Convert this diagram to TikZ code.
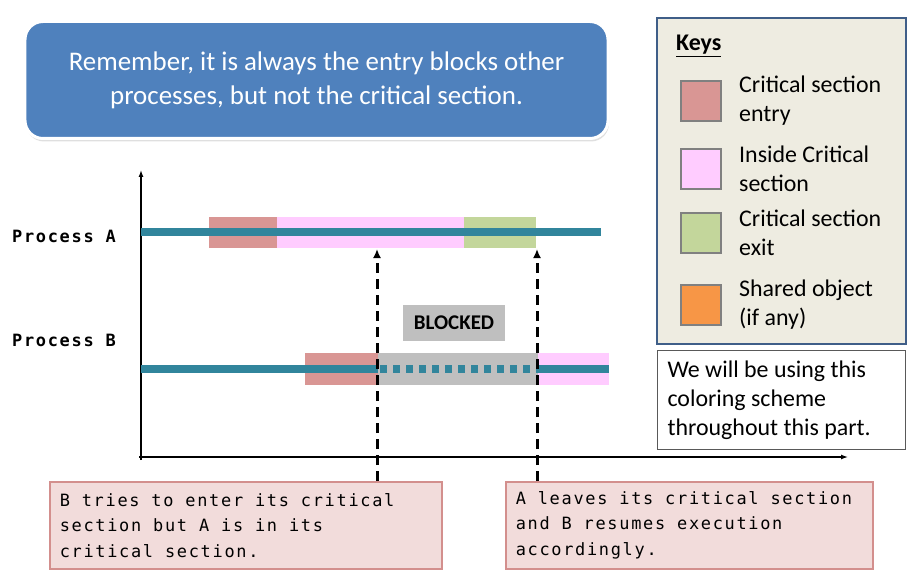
\documentclass[tikz,border=0pt]{standalone}
\usepackage{fontspec}
\setmainfont{Carlito}
\newfontfamily\ttcode[LetterSpace=10]{DejaVu Sans Mono}
\usetikzlibrary{arrows.meta,shadows}
\definecolor{noteblue}{HTML}{4F81BD}
\definecolor{procline}{HTML}{31859C}
\definecolor{csentry}{HTML}{D99694}
\definecolor{csinside}{HTML}{FFCCFF}
\definecolor{csexit}{HTML}{C3D69B}
\definecolor{shared}{HTML}{F79646}
\definecolor{blockgrey}{HTML}{BFBFBF}
\definecolor{keyfill}{HTML}{EEECE1}
\definecolor{keyedge}{HTML}{3F5E88}
\definecolor{calloutfill}{HTML}{F2DCDB}
\definecolor{calloutedge}{HTML}{D38F8D}
\begin{document}
\begin{tikzpicture}[x=1bp,y=-1bp,
note/.style={fill=noteblue, draw=white, line width=3bp, rounded corners=18bp, minimum width=583bp, minimum height=117bp, text=white, align=flush center, font=\fontsize{27}{34}\selectfont, drop shadow={shadow xshift=1bp, shadow yshift=-3bp, opacity=.25}},
keybox/.style={fill=keyfill, draw=keyedge, line width=2bp, anchor=north west, minimum width=249bp, minimum height=326bp},
swatch/.style={draw=black!50, line width=2bp, minimum size=40bp, inner sep=0},
keytext/.style={anchor=west, align=flush left, inner sep=0, font=\fontsize{24}{29}\selectfont},
proc/.style={anchor=west, inner sep=0, font=\ttcode\bfseries\fontsize{17}{20}\selectfont},
tl/.style={draw=procline, line width=8bp},
blocked/.style={fill=blockgrey, minimum width=102bp, minimum height=36bp, font=\bfseries\fontsize{21}{24}\selectfont},
callout/.style={fill=calloutfill, draw=calloutedge, line width=1.5bp, anchor=north west, minimum height=87bp, inner xsep=10bp, align=flush left, font=\ttcode\fontsize{17}{25.5}\selectfont},
axis/.style={line width=1.3bp, -{Latex[length=7bp,width=5bp]}},
wait/.style={line width=3bp, dash pattern=on 10bp off 6bp, -{Latex[length=9bp,width=8bp]}}]
\useasboundingbox (0,0) rectangle (911,579);
%\draw[help lines,step=50] (0,0) grid (911,579);
\node at (316.5,80) [note] (remember) {Remember, it is always the entry blocks other\\processes, but not the critical section.};

\node at (656,17) [keybox] (keys) {};
\node at (676,46) [anchor=west, inner sep=0, font=\bfseries\fontsize{24}{28}\selectfont] (keystitle) {\underline{Keys}};
\foreach \c/\yy/\txt [count=\i] in {csentry/101/{Critical section\\entry}, csinside/169/{Inside Critical\\section}, csexit/233/{Critical section\\exit}, shared/305/{Shared object\\(if any)}} {
  \node at (701,\yy) [swatch, fill=\c] (sw\i) {};
  \node at (739,\yy) [keytext] (kt\i) {\txt};
}
\node at (657,350) [anchor=north west, draw=black!65, line width=1bp, minimum width=248bp, minimum height=99bp, text width=228bp, inner xsep=10bp, align=flush left, font=\fontsize{24}{29}\selectfont] (scheme) {We will be using this\\coloring scheme\\throughout this part.};

\draw[axis] (141,460) -- (141,170);
\draw[axis] (139,457) -- (848,457);
\node at (12,236) [proc] (procA) {Process A};
\node at (12,340) [proc] (procB) {Process B};

% process A
\fill[csentry] (209,217) rectangle (277,248);
\fill[csinside] (277,217) rectangle (464,248);
\fill[csexit] (464,217) rectangle (536,248);
\draw[tl] (141,232) -- (601,232);
% process B
\fill[csentry] (305,353) rectangle (378,385);
\fill[blockgrey] (378,353) rectangle (538,385);
\fill[csinside] (538,353) rectangle (609,385);
\draw[tl] (141,369) -- (378,369);
\draw[tl, dash pattern=on 6.5bp off 6.5bp] (380,369) -- (538,369);
\draw[tl] (538,369) -- (609,369);
\node at (454,323) [blocked] (blk) {BLOCKED};

\node at (49,481) [callout, text width=372bp] (tryenter) {B tries to enter its critical\\section but A is in its\\critical section.};
\node at (505,481) [callout, text width=347bp] (leave) {A leaves its critical section\\and B resumes execution\\accordingly.};
\coordinate (hitA) at (377,249);
\coordinate (hitB) at (537,249);
\draw[wait] (tryenter.north -| hitA) -- (hitA);
\draw[wait] (leave.north -| hitB) -- (hitB);
\end{tikzpicture}
\end{document}
